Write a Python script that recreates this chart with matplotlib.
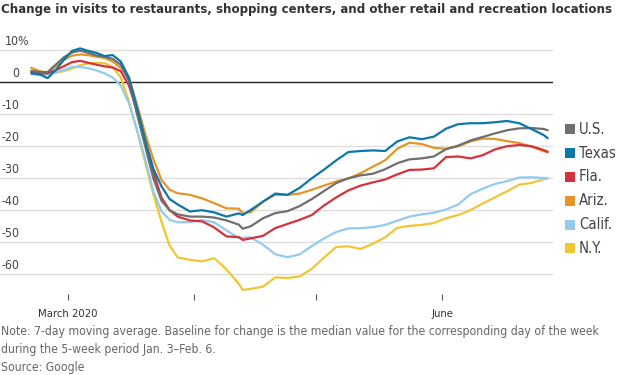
import matplotlib
matplotlib.use("Agg")
import matplotlib.pyplot as plt
import matplotlib.transforms as mtransforms
from matplotlib import font_manager
from matplotlib.font_manager import FontProperties

# ---------------- data (days since March 1, 2020) ----------------
days = [-9, -7, -5, -3, -1, 1, 3, 5, 7, 9, 11, 13, 15, 17, 19, 21, 23, 25, 27,
        30, 33, 36, 39, 42, 43, 45, 48, 51, 54, 57, 60, 63, 66, 69, 72, 75, 78,
        81, 84, 87, 90, 93, 96, 99, 102, 105, 108, 111, 114, 117, 118]

us = [3.6, 3.2, 3.2, 5.5, 7.8, 9.3, 9.9, 9.2, 8.4, 8.0, 7.3, 5.5, 0.5, -10, -20, -30, -37, -40, -41.3,
      -42.0, -42.0, -42.3, -43.2, -44.5, -45.8, -45.0, -42.5, -40.9, -40.3, -38.7, -36.5, -34.0, -31.5, -30.0, -29.1, -28.6, -27.2,
      -25.3, -24.1, -23.8, -23.2, -20.9, -19.8, -18.2, -17.1, -16.0, -15.0, -14.4, -14.3, -14.6, -15.0]

texas = [2.8, 2.5, 1.3, 3.8, 7.0, 9.8, 10.6, 9.8, 9.2, 8.2, 8.5, 6.5, 1.5, -8, -18, -27, -32.5, -36.5, -38.2,
         -40.4, -40.0, -40.7, -42.0, -41.0, -41.5, -39.9, -37.3, -34.8, -35.2, -33.0, -30.0, -27.3, -24.4, -21.8, -21.5, -21.3, -21.5,
         -18.5, -17.2, -17.8, -17.0, -14.5, -13.1, -12.8, -12.8, -12.5, -12.1, -12.8, -14.6, -16.5, -17.5]

fla = [3.2, 2.8, 2.8, 3.8, 5.0, 6.3, 6.7, 6.1, 5.5, 5.0, 4.6, 3.5, -1.0, -9, -18.5, -28, -36, -40, -42.0,
       -43.2, -43.5, -45.4, -48.2, -48.4, -49.3, -48.8, -48.0, -45.6, -44.3, -43.0, -41.5, -38.5, -36.0, -33.8, -32.3, -31.3, -30.4,
       -28.8, -27.4, -27.3, -26.9, -23.4, -23.2, -23.8, -22.8, -21.0, -20.0, -19.6, -20.0, -21.2, -21.7]

ariz = [4.5, 3.5, 3.0, 5.0, 7.0, 8.3, 8.7, 8.5, 8.0, 7.6, 6.5, 4.5, 1.5, -7, -16, -24, -30.5, -33.6, -34.7,
        -35.2, -36.3, -37.8, -39.4, -39.5, -40.9, -40.6, -37.3, -35.2, -35.2, -34.8, -33.6, -32.3, -31.0, -30.1, -28.4, -26.4, -24.4,
        -20.8, -18.9, -19.3, -20.5, -20.8, -20.0, -18.5, -17.6, -17.7, -18.4, -19.0, -20.1, -21.5, -21.9]

calif = [2.5, 2.3, 2.5, 3.2, 3.8, 4.8, 4.8, 4.4, 3.7, 2.8, 1.5, -1.0, -6.5, -15, -24, -34, -40.3, -43.0, -43.8,
         -43.7, -43.1, -43.8, -46.3, -48.7, -48.6, -48.5, -50.8, -53.8, -54.7, -53.8, -51.2, -48.8, -46.8, -45.7, -45.6, -45.3, -44.6,
         -43.3, -42.0, -41.3, -40.8, -39.8, -38.2, -35.0, -33.3, -31.8, -30.9, -29.8, -29.7, -29.9, -30.0]

ny = [3.5, 3.0, 2.8, 3.0, 3.5, 4.3, 5.3, 5.9, 6.1, 6.0, 4.8, 1.5, -6, -15, -25, -35, -43.5, -51, -54.8,
      -55.5, -56.0, -55.0, -58.5, -63.0, -64.9, -64.6, -63.9, -61.0, -61.2, -60.7, -58.3, -54.8, -51.5, -51.3, -52.1, -50.5, -48.5,
      -45.5, -44.9, -44.6, -44.0, -42.5, -41.5, -40.0, -37.9, -36.0, -34.1, -32.0, -31.5, -30.3, -30.0]

series_names = ["U.S.", "Texas", "Fla.", "Ariz.", "Calif.", "N.Y."]
series_values = [us, texas, fla, ariz, calif, ny]
series_colors = ["#6f6f6f", "#0b78aa", "#d5323c", "#e59526", "#93cbee", "#f1c534"]

y_ticks = [10, 0, -10, -20, -30, -40, -50, -60]
y_tick_labels = ["10%", "0", "-10", "-20", "-30", "-40", "-50", "-60"]
x_ticks = [0, 31, 61, 92]
x_tick_labels = ["March 2020", "", "", "June"]

title = "Change in visits to restaurants, shopping centers, and other retail and recreation locations"
note_lines = ["Note: 7-day moving average. Baseline for change is the median value for the corresponding day of the week",
              "during the 5-week period Jan. 3\u2013Feb. 6.",
              "Source: Google"]


# ---------------- fonts: prefer a condensed face if one is installed ----------------
def _weight(w):
    if isinstance(w, str):
        return font_manager.weight_dict.get(w, 400)
    return int(w)


def _is_condensed(f):
    n = f.name.lower()
    if "narrow" in n or "condensed" in n:
        return True
    s = f.stretch
    if isinstance(s, str):
        return "condensed" in s
    return s < 500


def find_face(target, family=None):
    best = None
    for f in font_manager.fontManager.ttflist:
        if f.style != "normal" or not _is_condensed(f):
            continue
        if family is not None and f.name != family:
            continue
        score = abs(_weight(f.weight) - target)
        if best is None or score < best[0]:
            best = (score, f)
    return best[1] if best else None


reg_face = find_face(400)
bold_face = find_face(700, reg_face.name) if reg_face is not None else None
if bold_face is not None and _weight(bold_face.weight) < 600:
    bold_face = find_face(700) or bold_face


def fp(size, bold=False):
    f = bold_face if bold else reg_face
    if f is not None:
        return FontProperties(fname=f.fname, size=size)
    return FontProperties(family=["Liberation Sans", "DejaVu Sans"], size=size,
                          weight="bold" if bold else "normal")


W, H = 620, 375
fig = plt.figure(figsize=(W / 100, H / 100), dpi=100)

ax_left, ax_right = 0, 553
ax_top, ax_bottom = 40.7, 294
ax = fig.add_axes([ax_left / W, 1 - ax_bottom / H, (ax_right - ax_left) / W, (ax_bottom - ax_top) / H])
ax.set_xlim(-16.7, 119.3)
ax.set_ylim(-66.2, 13)

for s in ax.spines.values():
    s.set_visible(False)

for v in y_ticks:
    if v == 0:
        ax.axhline(v, color="#222222", lw=1.0, zorder=2)
    else:
        ax.axhline(v, color="#dddddd", lw=1.0, zorder=1)

# y labels: numbers right-aligned, a '%' suffix hangs to the right
base = mtransforms.blended_transform_factory(fig.transFigure, ax.transData)
offset = mtransforms.ScaledTranslation(0, 1.5 / 72, fig.dpi_scale_trans)
pct_offset = mtransforms.ScaledTranslation(-1.0 / 72, 1.5 / 72, fig.dpi_scale_trans)
ylab_texts = []
num_right = 19 / W
for v, lab in zip(y_ticks, y_tick_labels):
    num = lab.rstrip("%")
    ylab_texts.append(ax.text(num_right, v, num, transform=base + offset, ha="right", va="bottom",
                              fontproperties=fp(10), color="#444444"))
    if lab.endswith("%"):
        ylab_texts.append(ax.text(num_right, v, "%", transform=base + pct_offset, ha="left", va="bottom",
                                  fontproperties=fp(10), color="#444444"))

ax.set_yticks([])
ax.set_xticks(x_ticks)
ax.set_xticklabels(x_tick_labels, color="#333333")
for t in ax.get_xticklabels():
    t.set_fontproperties(fp(10))
ax.tick_params(axis="x", length=4, width=0.8, color="#555555", pad=7)

draw_order = [5, 4, 3, 2, 0, 1]
for z, i in enumerate(draw_order):
    ax.plot(days, series_values[i], color=series_colors[i], lw=1.6, zorder=3 + z,
            solid_capstyle="round")

leg_y0 = 129.3
leg_dy = 23.8
leg_texts = []
for k, (name, col) in enumerate(zip(series_names, series_colors)):
    yc = leg_y0 + k * leg_dy
    fig.patches.append(plt.Rectangle((565 / W, 1 - (yc + 5) / H), 10 / W, 10 / H,
                                     transform=fig.transFigure, facecolor=col, edgecolor="none"))
    leg_texts.append(fig.text(579 / W, 1 - yc / H, name, ha="left", va="center",
                              fontproperties=fp(11.5), color="#444444"))

t_title = fig.text(1 / W, 1 - 10 / H, title, ha="left", va="center",
                   fontproperties=fp(12, bold=True), color="#333333")
note_texts = []
for k, line in enumerate(note_lines):
    note_texts.append(fig.text(1 / W, 1 - (332 + 17.5 * k) / H, line, ha="left", va="center",
                               fontproperties=fp(10), color="#666666"))

# fit text widths to the reference
fig.canvas.draw()
r = fig.canvas.get_renderer()
tw = t_title.get_window_extent(r).width
t_title.set_fontproperties(fp(12 * 606 / tw, bold=True))
nw = note_texts[0].get_window_extent(r).width
note_size = 10 * 598 / nw
for t in note_texts:
    t.set_fontproperties(fp(note_size))
lw_ = leg_texts[1].get_window_extent(r).width
leg_size = 11.5 * 37 / lw_
for t in leg_texts:
    t.set_fontproperties(fp(leg_size))
mw = ax.get_xticklabels()[0].get_window_extent(r).width
xs = 10 * 60 / mw
for t in ax.get_xticklabels():
    t.set_fontproperties(fp(xs))
for t in ylab_texts:
    t.set_fontproperties(fp(xs * 1.1))

fig.savefig("out.png", dpi=100)
